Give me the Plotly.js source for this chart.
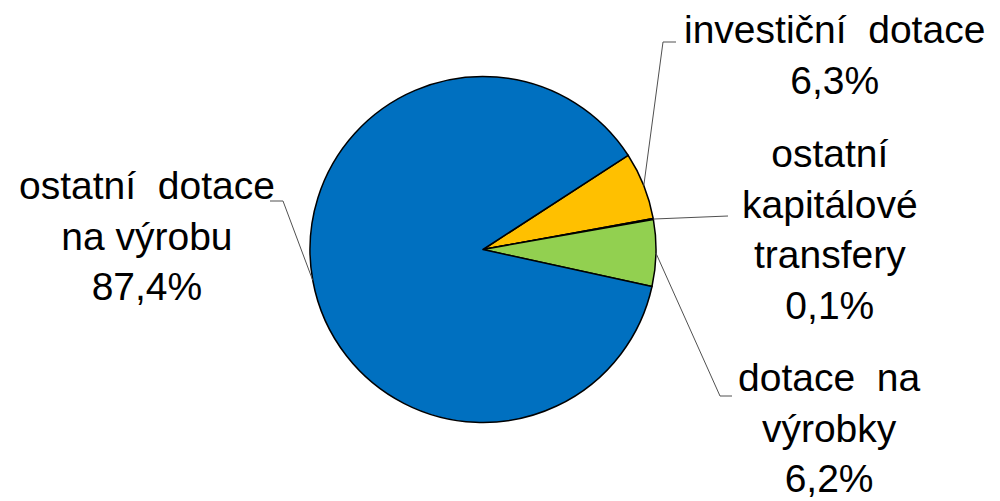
<!DOCTYPE html>
<html>
<head>
<meta charset="utf-8">
<script src="https://cdn.plot.ly/plotly-3.0.1.min.js"></script>
<style>html,body{margin:0;padding:0;background:#fff;}#chart{width:1000px;height:501px;}</style>
</head>
<body>
<div id="chart"></div>
<script>
// ---- data ----
const categories = ["investiční dotace", "ostatní kapitálové transfery", "dotace na výrobky", "ostatní dotace na výrobu"];
const shares = [6.3, 0.1, 6.2, 87.4];
const labelText = [
  "investiční\u00a0\u00a0dotace<br>6,3%",
  "ostatní<br>kapitálové<br>transfery<br>0,1%",
  "dotace\u00a0\u00a0na<br>výrobky<br>6,2%",
  "ostatní\u00a0\u00a0dotace<br>na výrobu<br>87,4%"
];
const colors = ["#FFC000", "#FFC000", "#92D050", "#0070C0"];

// ---- layout constants (pixels) ----
const W = 1000, H = 501;
const cx = 483, cy = 249.5, R = 173;
const rotation = 57;
const labelPos = [[834, 55], [830, 229], [829, 428], [147, 236]];
const elbows = [
  [[663, 42], [676, 42]],
  [[728, 216]],
  [[720, 396], [732, 396]],
  [[283, 201], [270, 201]]
];

const px = x => x / W;
const py = y => 1 - y / H;

const total = shares.reduce((a, b) => a + b, 0);
let cum = 0;
const shapes = [];
const annotations = [];
shares.forEach((v, i) => {
  const mid = (rotation + 360 * (cum + v / 2) / total) * Math.PI / 180;
  cum += v;
  const ax = cx + R * Math.sin(mid), ay = cy - R * Math.cos(mid);
  let path = `M ${px(ax)} ${py(ay)}`;
  elbows[i].forEach(p => { path += ` L ${px(p[0])} ${py(p[1])}`; });
  shapes.push({type: 'path', xref: 'paper', yref: 'paper', path: path,
    line: {color: '#505050', width: 1}});
  annotations.push({xref: 'paper', yref: 'paper', x: px(labelPos[i][0]), y: py(labelPos[i][1]),
    xanchor: 'center', yanchor: 'middle', align: 'center', showarrow: false,
    text: labelText[i], font: {family: 'Liberation Sans, Arial, sans-serif', size: 39, color: '#000'}});
});

const trace = {
  type: 'pie',
  labels: categories,
  values: shares,
  sort: false,
  direction: 'clockwise',
  rotation: rotation,
  marker: {colors: colors, line: {color: '#000', width: 1.5}},
  textinfo: 'none',
  hoverinfo: 'none',
  showlegend: false,
  domain: {x: [px(cx - R), px(cx + R)], y: [py(cy + R), py(cy - R)]}
};

Plotly.newPlot('chart', [trace], {
  width: W, height: H,
  margin: {l: 0, r: 0, t: 0, b: 0},
  paper_bgcolor: '#fff',
  shapes: shapes,
  annotations: annotations,
  showlegend: false
}, {staticPlot: true});
</script>
</body>
</html>
